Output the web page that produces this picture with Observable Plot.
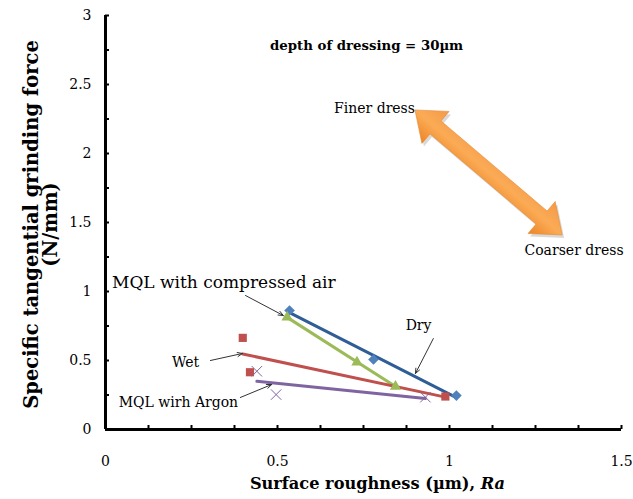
<!DOCTYPE html>
<html><head><meta charset="utf-8">
<script src="https://cdn.jsdelivr.net/npm/d3@7"></script>
<script src="https://cdn.jsdelivr.net/npm/@observablehq/plot@0.6"></script>
<style>html,body{margin:0;padding:0;background:#fff}</style>
</head><body><div id="chart"></div>
<script>
// ---- data ----
const dryX = [0.535, 0.779, 1.02];
const dryY = [0.862, 0.507, 0.246];
const airX = [0.528, 0.731, 0.843];
const airY = [0.813, 0.488, 0.312];
const wetX = [0.399, 0.42, 0.988];
const wetY = [0.664, 0.415, 0.239];
const argonX = [0.44, 0.496, 0.93];
const argonY = [0.422, 0.253, 0.234];

// ---- ticks ----
const xTickLabels = [0, 0.5, 1, 1.5];
const xMinorTicks = [0.125, 0.25, 0.375, 0.5, 0.625, 0.75, 0.875, 1, 1.125, 1.25, 1.375, 1.5];
const yTickLabels = [0, 0.5, 1, 1.5, 2, 2.5, 3];
const yMinorTicks = [0.25, 0.5, 0.75, 1, 1.25, 1.5, 1.75, 2, 2.25, 2.5, 2.75, 3];

// ---- texts ----
const xTitle = "Surface roughness (µm), Ra";
const yTitle = "Specific tangential grinding force\n(N/mm)";
const noteText = ["depth of dressing = 30µm"];
const noteX = [0.759];
const noteY = [2.783];
const dressText = ["Finer dress", "Coarser dress"];
const dressX = [0.782, 1.362];
const dressY = [2.326, 1.297];
const dressArrowX = [0.901, 1.329];
const dressArrowY = [2.312, 1.406];

// series call-outs
const labelText = ["MQL with compressed air", "Dry", "Wet", "MQL wirh Argon"];
const labelX = [0.344, 0.91, 0.233, 0.212];
const labelY = [1.065, 0.754, 0.486, 0.196];
const labelSize = [17, 14, 14, 14];
const pointerX1 = [0.407, 0.953, 0.305, 0.392];
const pointerY1 = [0.971, 0.659, 0.5, 0.232];
const pointerX2 = [0.517, 0.901, 0.398, 0.483];
const pointerY2 = [0.826, 0.406, 0.551, 0.326];

const zip = (xs, ys) => xs.map((x, i) => ({x, y: ys[i]}));
const dry = zip(dryX, dryY), air = zip(airX, airY), wet = zip(wetX, wetY), argon = zip(argonX, argonY);
const labels = labelText.map((t, i) => ({t, x: labelX[i], y: labelY[i], s: labelSize[i]}));
const pointers = pointerX1.map((x1, i) => ({x1, y1: pointerY1[i], x2: pointerX2[i], y2: pointerY2[i]}));
const notes = noteText.map((t, i) => ({t, x: noteX[i], y: noteY[i]}));
const dressLabels = dressText.map((t, i) => ({t, x: dressX[i], y: dressY[i]}));

// double-headed orange arrow drawn through the plot's scales
function dressArrow(index, scales) {
  const p1 = [scales.x(dressArrowX[0]), scales.y(dressArrowY[0])];
  const p2 = [scales.x(dressArrowX[1]), scales.y(dressArrowY[1])];
  const dx = p2[0] - p1[0], dy = p2[1] - p1[1], len = Math.hypot(dx, dy);
  const u = [dx / len, dy / len], n = [-u[1], u[0]];
  const L = 27, H = 21, S = 8.5;
  const P = (p, a, b) => [p[0] + u[0] * a + n[0] * b, p[1] + u[1] * a + n[1] * b];
  const pts = [
    p1, P(p1, L, H), P(p1, L, S), P(p2, -L, S), P(p2, -L, H),
    p2, P(p2, -L, -H), P(p2, -L, -S), P(p1, L, -S), P(p1, L, -H)
  ];
  const g = d3.create("svg:g");
  const m = [(p1[0] + p2[0]) / 2, (p1[1] + p2[1]) / 2];
  const grad = g.append("defs").append("linearGradient")
    .attr("id", "orangeGrad").attr("gradientUnits", "userSpaceOnUse")
    .attr("x1", m[0] - n[0] * H).attr("y1", m[1] - n[1] * H)
    .attr("x2", m[0] + n[0] * H).attr("y2", m[1] + n[1] * H);
  grad.append("stop").attr("offset", "0").attr("stop-color", "#f39a4a");
  grad.append("stop").attr("offset", "0.5").attr("stop-color", "#fbab55");
  grad.append("stop").attr("offset", "1").attr("stop-color", "#ec8426");
  const d = "M" + pts.map(p => p.join(",")).join("L") + "Z";
  g.append("path").attr("d", d).attr("transform", "translate(2,3)")
    .attr("fill", "#000").attr("fill-opacity", 0.15);
  g.append("path").attr("d", d).attr("fill", "url(#orangeGrad)")
    .attr("stroke", "#e88a30").attr("stroke-width", 0.6);
  return g.node();
}

const serif = "'DejaVu Serif', 'Liberation Serif', serif";

const chart = Plot.plot({
  width: 633,
  height: 499,
  marginLeft: 105,
  marginRight: 12,
  marginTop: 15,
  marginBottom: 70,
  x: {domain: [0, 1.5]},
  y: {domain: [0, 3]},
  style: {fontFamily: serif, fontSize: "14px", color: "#000", background: "#fff", overflow: "visible"},
  marks: [
    // axis ticks (inward) and labels
    Plot.axisX(xMinorTicks, {tickSize: -4, strokeWidth: 2, fill: "none", label: null}),
    Plot.axisX(xTickLabels, {tickSize: 0, tickPadding: 27, fontSize: 14, label: null, tickFormat: d => String(d)}),
    Plot.axisY(yMinorTicks, {tickSize: -4, strokeWidth: 2, fill: "none", label: null}),
    Plot.axisY(yTickLabels, {tickSize: 0, tickPadding: 14, fontSize: 14, label: null, tickFormat: d => String(d)}),
    Plot.ruleX([0], {strokeWidth: 3, stroke: "#000"}),
    Plot.ruleY([0], {strokeWidth: 3, stroke: "#000"}),

    // axis titles
    Plot.text([yTitle], {frameAnchor: "left", textAnchor: "middle", dx: -64, dy: 2, rotate: -90, fontWeight: "bold", fontSize: 19.5, lineHeight: 0.95, fill: "#000"}),
    Plot.text([xTitle], {frameAnchor: "bottom", textAnchor: "middle", dx: 14, dy: 59, fontWeight: "bold", fontSize: 16.2, fill: "#000"}),

    // orange dressing arrow + texts
    dressArrow,
    Plot.text(dressLabels, {x: "x", y: "y", text: "t", fontSize: 14, fill: "#000"}),
    Plot.text(notes, {x: "x", y: "y", text: "t", fontSize: 13.3, fontWeight: "bold", fill: "#000"}),

    // trendlines
    Plot.linearRegressionY(dry, {x: "x", y: "y", stroke: "#2f5d96", strokeWidth: 3, ci: 0}),
    Plot.linearRegressionY(air, {x: "x", y: "y", stroke: "#9bbb59", strokeWidth: 3, ci: 0}),
    Plot.linearRegressionY(wet, {x: "x", y: "y", stroke: "#c0504d", strokeWidth: 3, ci: 0}),
    Plot.linearRegressionY(argon, {x: "x", y: "y", stroke: "#8064a2", strokeWidth: 3, ci: 0}),

    // markers
    Plot.dot(dry, {x: "x", y: "y", symbol: "diamond2", r: 4.8, fill: "#4f81bd", stroke: "none"}),
    Plot.dot(air, {x: "x", y: "y", symbol: "triangle2", r: 5.4, fill: "#9bbb59", stroke: "none"}),
    Plot.dot(wet, {x: "x", y: "y", symbol: "square2", r: 5.2, fill: "#c0504d", stroke: "none"}),
    Plot.dot(argon, {x: "x", y: "y", symbol: "times", r: 4.8, stroke: "#8064a2", strokeWidth: 1, fill: "none"}),

    // call-outs
    Plot.arrow(pointers, {x1: "x1", y1: "y1", x2: "x2", y2: "y2", stroke: "#333", strokeWidth: 1, headLength: 8, headAngle: 45}),
    ...labels.map(l => Plot.text([l], {x: "x", y: "y", text: "t", fontSize: l.s, fill: "#000"}))
  ]
});

// italic "Ra" in the x-axis title
for (const t of chart.querySelectorAll("text")) {
  if (t.textContent === xTitle) {
    const base = t.querySelector("tspan") || t;
    base.textContent = "";
    const a = document.createElementNS("http://www.w3.org/2000/svg", "tspan");
    a.textContent = "Surface roughness (µm), ";
    const b = document.createElementNS("http://www.w3.org/2000/svg", "tspan");
    b.textContent = "Ra";
    b.setAttribute("font-style", "italic");
    base.appendChild(a); base.appendChild(b);
  }
}
document.getElementById("chart").appendChild(chart);
</script>
</body></html>
